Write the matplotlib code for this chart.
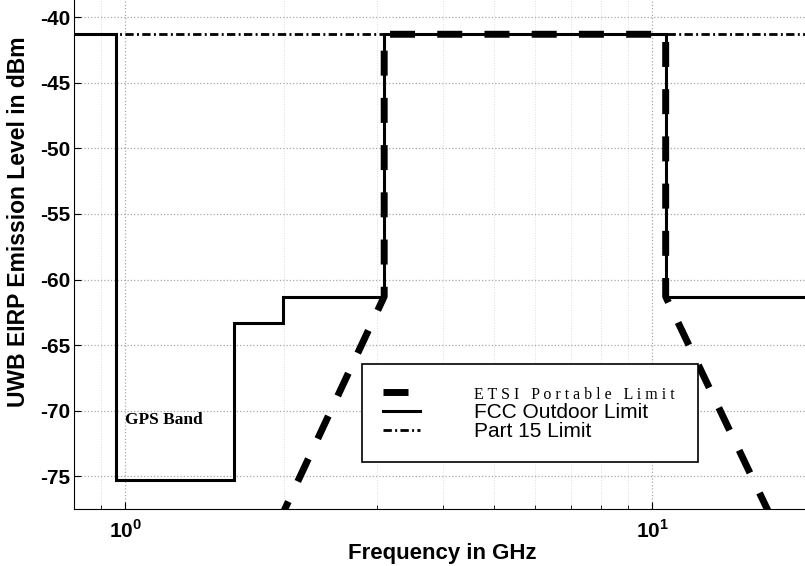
import matplotlib
matplotlib.use("Agg")
import matplotlib.pyplot as plt
import numpy as np
from matplotlib.ticker import FixedLocator, LogLocator, NullFormatter

plt.rcParams['font.family'] = ['Liberation Sans', 'DejaVu Sans']
plt.rcParams['mathtext.fontset'] = 'custom'
plt.rcParams['mathtext.rm'] = 'Liberation Sans:bold'
plt.rcParams['mathtext.bf'] = 'Liberation Sans:bold'

# UWB emission masks (frequency in GHz, level in dBm)
part15_freq = [0.8, 20.0]
part15_level = [-41.3, -41.3]

fcc_freq = [0.8, 0.96, 0.96, 1.61, 1.61, 1.99, 1.99, 3.1, 3.1, 10.6, 10.6, 20.0]
fcc_level = [-41.3, -41.3, -75.3, -75.3, -63.3, -63.3, -61.3, -61.3, -41.3, -41.3, -61.3, -61.3]

etsi_freq = [1.6, 3.1, 3.1, 10.6, 10.6, 20.0]
etsi_level = [-86.0, -61.3, -41.3, -41.3, -61.3, -84.5]

y_ticks = [-75, -70, -65, -60, -55, -50, -45, -40]
x_ticks = [1, 10]
x_tick_labels = [r'$10^{0}$', r'$10^{1}$']

fig = plt.figure(figsize=(8.05, 5.66), dpi=100)
ax = fig.add_axes([0.092, 0.1007, 0.9155, 0.899])
ax.set_xscale('log')

# grid first so the curves sit on top
ax.grid(True, which='major', linestyle=':', color='#a8a8a8', linewidth=0.9)
ax.grid(True, which='minor', axis='x', linestyle=':', color='#dddddd', linewidth=0.7)

ax.plot(fcc_freq, fcc_level, color='black', linewidth=2.2, solid_joinstyle='miter',
        label='FCC Outdoor Limit', zorder=3)
ax.plot(part15_freq, part15_level, color='black', linewidth=2.0,
        dashes=(3.0, 1.2, 0.7, 1.2), label='Part 15 Limit', zorder=3)
ax.plot(etsi_freq, etsi_level, color='black', linewidth=5.0,
        dashes=(3.6, 3.2), label='ETSI Portable Limit', zorder=4)

ax.set_xlim(0.8, 20.0)
ax.set_ylim(-77.5, -38.7)

ax.xaxis.set_major_locator(FixedLocator(x_ticks))
ax.set_xticklabels(x_tick_labels)
ax.xaxis.set_minor_locator(LogLocator(base=10, subs=np.arange(2, 10)))
ax.xaxis.set_minor_formatter(NullFormatter())
ax.set_yticks(y_ticks)
ax.set_yticklabels([str(v) for v in y_ticks])

ax.tick_params(axis='both', which='major', direction='in', length=5, width=0.8,
               labelsize=15, top=False, right=False)
ax.tick_params(axis='x', which='minor', direction='in', length=3, width=0.6, top=False)
for lab in ax.get_yticklabels():
    lab.set_fontweight('bold')
ax.tick_params(axis='x', pad=7)
ax.tick_params(axis='y', pad=3)

ax.spines['top'].set_visible(False)
ax.spines['right'].set_visible(False)

ax.set_xlabel('Frequency in GHz', fontsize=16, fontweight='bold', labelpad=1)
ax.set_ylabel('UWB EIRP Emission Level in dBm', fontsize=16.5, fontweight='bold')
ax.yaxis.set_label_coords(-0.06, 0.564)

ax.text(1.0, -70.7, 'GPS Band', fontsize=12.5, fontweight='bold',
        family='Liberation Serif', va='center', ha='left')

# legend in the order of the original figure
handles, labels = ax.get_legend_handles_labels()
order = [2, 0, 1]
leg = ax.legend([handles[i] for i in order],
                ['E T S I   P o r t a b l e   L i m i t', 'FCC Outdoor Limit', 'Part 15 Limit'],
                loc='lower left', bbox_to_anchor=(0.391, 0.092, 0.456, 0.19), mode='expand',
                fontsize=15, handlelength=1.75, handletextpad=2.6, labelspacing=0.0,
                borderpad=1.0, borderaxespad=0, fancybox=False, edgecolor='black',
                framealpha=1)
leg.get_frame().set_linewidth(1.2)
leg.get_texts()[0].set_fontfamily('Liberation Serif')
leg.get_texts()[0].set_fontsize(11.5)

fig.savefig('out.png', dpi=100)
